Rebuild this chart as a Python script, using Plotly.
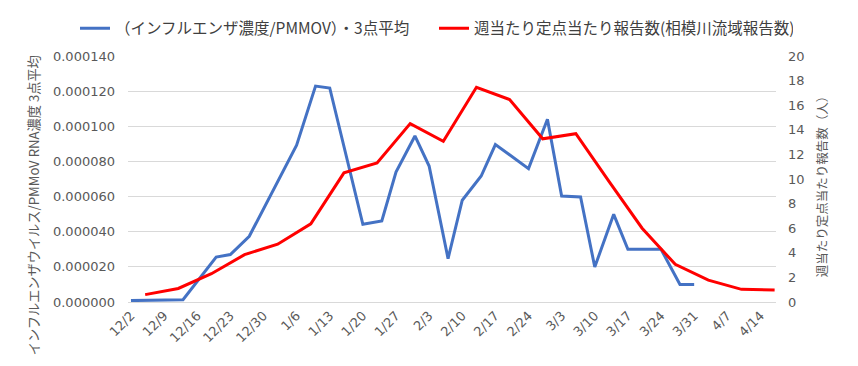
import plotly.graph_objects as go

# ---- data ----
blue_dates = ["2024-12-02", "2024-12-13", "2024-12-20", "2024-12-23", "2024-12-27",
              "2025-01-06", "2025-01-10", "2025-01-13", "2025-01-20", "2025-01-24",
              "2025-01-27", "2025-01-31", "2025-02-03", "2025-02-07", "2025-02-10",
              "2025-02-14", "2025-02-17", "2025-02-24", "2025-02-28", "2025-03-03",
              "2025-03-07", "2025-03-10", "2025-03-14", "2025-03-17", "2025-03-24",
              "2025-03-28", "2025-03-31"]
blue_values = [0.0000008, 0.0000013, 0.0000256, 0.0000270, 0.0000374,
               0.0000892, 0.0001229, 0.0001218, 0.0000442, 0.0000461,
               0.0000740, 0.0000945, 0.0000774, 0.0000247, 0.0000579,
               0.0000717, 0.0000896, 0.0000759, 0.0001040, 0.0000603,
               0.0000598, 0.0000199, 0.0000499, 0.0000300, 0.0000300,
               0.0000100, 0.0000100]

red_dates = ["2024-12-05", "2024-12-12", "2024-12-19", "2024-12-26", "2025-01-02",
             "2025-01-09", "2025-01-16", "2025-01-23", "2025-01-30", "2025-02-06",
             "2025-02-13", "2025-02-20", "2025-02-27", "2025-03-06", "2025-03-13",
             "2025-03-20", "2025-03-27", "2025-04-03", "2025-04-10", "2025-04-17"]
red_values = [0.6, 1.1, 2.3, 3.85, 4.7,
              6.35, 10.5, 11.3, 14.5, 13.06,
              17.46, 16.46, 13.27, 13.68, 9.8,
              6.0, 3.06, 1.78, 1.03, 0.97]

tick_dates = ["2024-12-02", "2024-12-09", "2024-12-16", "2024-12-23", "2024-12-30",
              "2025-01-06", "2025-01-13", "2025-01-20", "2025-01-27", "2025-02-03",
              "2025-02-10", "2025-02-17", "2025-02-24", "2025-03-03", "2025-03-10",
              "2025-03-17", "2025-03-24", "2025-03-31", "2025-04-07", "2025-04-14"]
tick_labels = ["12/2", "12/9", "12/16", "12/23", "12/30", "1/6", "1/13", "1/20", "1/27",
               "2/3", "2/10", "2/17", "2/24", "3/3", "3/10", "3/17", "3/24", "3/31",
               "4/7", "4/14"]

blue_name = "（インフルエンザ濃度/PMMOV）・3点平均"
red_name = "週当たり定点当たり報告数(相模川流域報告数)"
left_title = "インフルエンザウイルス/PMMoV RNA濃度 3点平均"
right_title = "週当たり定点当たり報告数（人）"

FONT = "Noto Sans CJK JP, Noto Sans, sans-serif"
NUMFONT = "DejaVu Sans, Noto Sans, sans-serif"
TICK_COLOR = "#595959"
GRID = "#d9d9d9"

W, H = 858, 366
L, R, T, B = 128, 82, 55.5, 64
pw = W - L - R
ph = H - T - B

fig = go.Figure()
fig.add_trace(go.Scatter(x=blue_dates, y=blue_values, mode="lines", name=blue_name,
                         line=dict(color="#4472C4", width=3), yaxis="y"))
fig.add_trace(go.Scatter(x=red_dates, y=red_values, mode="lines", name=red_name,
                         line=dict(color="#FF0000", width=3), yaxis="y2"))

fig.update_layout(
    width=W, height=H,
    margin=dict(l=L, r=R, t=T, b=B, autoexpand=False),
    paper_bgcolor="white", plot_bgcolor="white",
    font=dict(family=FONT, color=TICK_COLOR),
    showlegend=True,
    legend=dict(orientation="h", x=(75 - L) / pw, xanchor="left",
                y=(H - B - 28) / ph, yanchor="middle",
                font=dict(size=15.5, color="#404040", family=FONT),
                bgcolor="rgba(0,0,0,0)", itemwidth=30, tracegroupgap=0,
                entrywidth=314, entrywidthmode="pixels"),
    xaxis=dict(type="date", range=["2024-12-01 09:00", "2025-04-17 07:00"],
               tickmode="array", tickvals=tick_dates, ticktext=tick_labels,
               tickangle=-45, tickfont=dict(size=13, color=TICK_COLOR, family=NUMFONT),
               showgrid=False, showline=True, linecolor=GRID, linewidth=1,
               zeroline=False, ticks="", automargin=False),
    yaxis=dict(range=[0, 0.00014], dtick=0.00002, tickformat=".6f",
               tickfont=dict(size=13, color=TICK_COLOR, family=NUMFONT),
               showgrid=True, gridcolor=GRID, gridwidth=1,
               zeroline=False, showline=False, ticks="", ticklabelstandoff=12,
               automargin=False),
    yaxis2=dict(range=[0, 20], dtick=2, overlaying="y", side="right",
                tickfont=dict(size=13, color=TICK_COLOR, family=NUMFONT),
                showgrid=False, zeroline=False, showline=False, ticks="",
                ticklabelstandoff=11, automargin=False),
    annotations=[
        dict(text=left_title, xref="paper", yref="paper",
             x=(33 - L) / pw, y=(H - B - 205) / ph, textangle=-90,
             showarrow=False, font=dict(size=13.2, color=TICK_COLOR, family=FONT),
             xanchor="center", yanchor="middle"),
        dict(text=right_title, xref="paper", yref="paper",
             x=(821 - L) / pw, y=(H - B - 183) / ph, textangle=-90,
             showarrow=False, font=dict(size=12.5, color=TICK_COLOR, family=FONT),
             xanchor="center", yanchor="middle"),
    ],
)

fig.write_html("out.html", config={"displayModeBar": False},
               post_script="document.body.style.margin='0px';")
